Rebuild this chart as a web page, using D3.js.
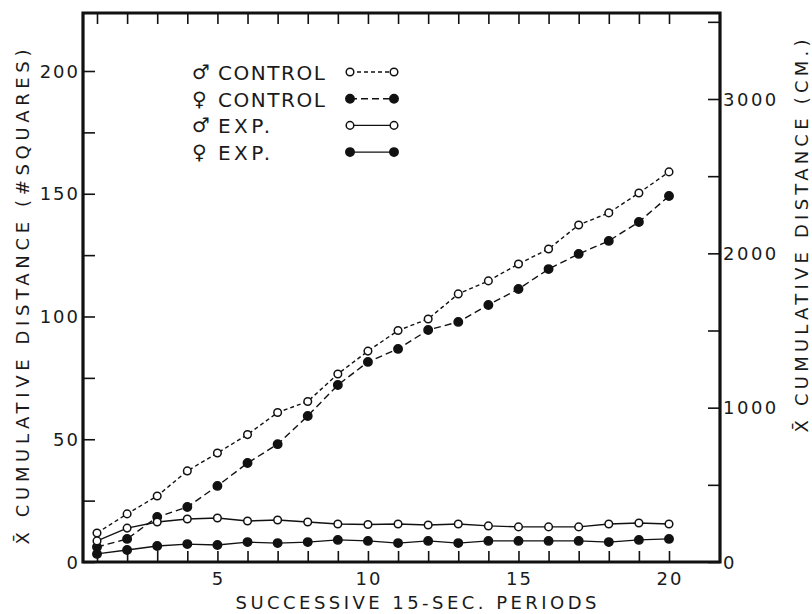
<!DOCTYPE html>
<html lang="en">
<head>
<meta charset="UTF-8">
<title>Cumulative distance</title>
<script src="https://d3js.org/d3.v7.min.js"></script>
<style>
  body { margin: 0; background: #fff; }
  svg text { font-family: "DejaVu Sans", sans-serif; fill: #1a1a1a; }
</style>
</head>
<body>
<div id="chart"></div>
<script>
// periods 1..20
var periods = d3.range(1, 21);

var maleControl = [11.8, 19.6, 26.9, 37.1, 44.4, 51.9, 60.9, 65.4, 76.6, 85.9,
                   94.3, 99.0, 109.2, 114.5, 121.4, 127.5, 137.3, 142.2, 150.3, 158.9];
var femaleControl = [6.1, 9.4, 18.3, 22.4, 31.0, 40.3, 48.0, 59.5, 72.1, 81.5,
                     86.8, 94.5, 97.8, 104.7, 111.2, 119.3, 125.5, 130.8, 138.5, 149.1];
var maleExp = [8.6, 13.8, 16.3, 17.5, 17.9, 16.7, 17.1, 16.3, 15.5, 15.3,
               15.5, 15.1, 15.5, 14.7, 14.3, 14.3, 14.3, 15.5, 15.9, 15.5];
var femaleExp = [3.3, 4.9, 6.5, 7.3, 6.9, 8.1, 7.7, 8.1, 9.0, 8.6,
                 7.7, 8.6, 7.7, 8.6, 8.6, 8.6, 8.6, 8.1, 9.0, 9.4];

var leftTicks = [0, 50, 100, 150, 200];
var leftMinor = [25, 75, 125, 175];
var rightTicks = [0, 1000, 2000, 3000];
var rightMinor = [500, 1500, 2500, 3500];
var xLabelTicks = [5, 10, 15, 20];

var series = [
  { name: "CONTROL", sex: "\u2642", values: maleControl, filled: false, dash: "4,3" },
  { name: "CONTROL", sex: "\u2640", values: femaleControl, filled: true, dash: "7,4" },
  { name: "EXP.", sex: "\u2642", values: maleExp, filled: false, dash: null },
  { name: "EXP.", sex: "\u2640", values: femaleExp, filled: true, dash: null }
];

var width = 812, height = 614;
var plotLeft = 83, plotRight = 720, plotTop = 13, plotBottom = 562;

var svg = d3.select("#chart").append("svg")
    .attr("width", width)
    .attr("height", height);

var x = d3.scaleLinear().domain([1, 20]).range([97, 669]);
var y = d3.scaleLinear().domain([0, 200]).range([562, 71]);
var y2 = d3.scaleLinear().domain([0, 3000]).range([562, 99]);

var fontSize = 18;

// frame
var frame = svg.append("g").attr("stroke", "#111").attr("stroke-width", 3.2).attr("fill", "none");
frame.append("path")
    .attr("d", "M" + plotLeft + "," + plotTop + "H" + plotRight + "V" + plotBottom + "H" + plotLeft + "Z");

function styleTicks(g) {
  g.select(".domain").remove();
  g.selectAll("line").attr("stroke", "#111").attr("stroke-width", 1.6);
}

// bottom axis ticks (inward)
svg.append("g").attr("transform", "translate(0," + plotBottom + ")")
    .call(d3.axisTop(x).tickValues(periods).tickSize(11).tickFormat(""))
    .call(styleTicks);

// top ticks (inward)
svg.append("g").attr("transform", "translate(0," + plotTop + ")")
    .call(d3.axisBottom(x).tickValues(periods).tickSize(11).tickFormat(""))
    .call(styleTicks);

// bottom labels
svg.append("g").selectAll("text").data(xLabelTicks).enter().append("text")
    .attr("x", function(d) { return x(d) + 1; })
    .attr("y", 585)
    .attr("text-anchor", "middle")
    .style("font-size", fontSize + "px")
    .style("letter-spacing", "2px")
    .text(function(d) { return d; });

// left axis
svg.append("g").attr("transform", "translate(" + plotLeft + ",0)")
    .call(d3.axisRight(y).tickValues(leftTicks.concat(leftMinor)).tickSize(12).tickFormat(""))
    .call(styleTicks);
svg.append("g").selectAll("text").data(leftTicks).enter().append("text")
    .attr("x", 80)
    .attr("y", function(d) { return y(d) + 6.5; })
    .attr("text-anchor", "end")
    .style("font-size", fontSize + "px")
    .style("letter-spacing", "2px")
    .text(function(d) { return d; });

// right axis
svg.append("g").attr("transform", "translate(" + plotRight + ",0)")
    .call(d3.axisLeft(y2).tickValues(rightTicks.concat(rightMinor)).tickSize(12).tickFormat(""))
    .call(styleTicks);
svg.append("g").selectAll("text").data(rightTicks).enter().append("text")
    .attr("x", 723)
    .attr("y", function(d) { return y2(d) + 6.5; })
    .attr("text-anchor", "start")
    .style("font-size", fontSize + "px")
    .style("letter-spacing", "2.5px")
    .text(function(d) { return d; });

// axis titles
svg.append("text")
    .attr("x", 416).attr("y", 609)
    .attr("text-anchor", "middle")
    .attr("textLength", 361)
    .attr("lengthAdjust", "spacing")
    .style("font-size", fontSize + "px")
    .text("SUCCESSIVE  15-SEC.  PERIODS");

svg.append("text")
    .attr("transform", "translate(29,297) rotate(-90)")
    .attr("text-anchor", "middle")
    .attr("textLength", 495)
    .attr("lengthAdjust", "spacing")
    .style("font-size", fontSize + "px")
    .text("X\u0304  CUMULATIVE  DISTANCE  (#SQUARES)");

svg.append("text")
    .attr("transform", "translate(808,236) rotate(-90)")
    .attr("text-anchor", "middle")
    .attr("textLength", 393)
    .attr("lengthAdjust", "spacing")
    .style("font-size", fontSize + "px")
    .text("X\u0304  CUMULATIVE  DISTANCE  (CM.)");

// series
var line = d3.line()
    .x(function(d, i) { return x(periods[i]); })
    .y(function(d) { return y(d); });

series.forEach(function(s) {
  svg.append("path")
      .datum(s.values)
      .attr("d", line)
      .attr("fill", "none")
      .attr("stroke", "#111")
      .attr("stroke-width", 1.4)
      .attr("stroke-dasharray", s.dash);
});
series.forEach(function(s) {
  svg.append("g").selectAll("circle").data(s.values).enter().append("circle")
      .attr("cx", function(d, i) { return x(periods[i]); })
      .attr("cy", function(d) { return y(d); })
      .attr("r", s.filled ? 4.2 : 3.8)
      .attr("fill", s.filled ? "#111" : "#fff")
      .attr("stroke", "#111")
      .attr("stroke-width", 1.5);
});

// legend
var legend = svg.append("g").attr("class", "legend");
series.forEach(function(s, i) {
  var ly = 72 + i * 26.7;
  legend.append("text")
      .attr("x", 192).attr("y", ly + 7)
      .style("font-size", "20px")
      .text(s.sex);
  legend.append("text")
      .attr("x", 218).attr("y", ly + 8)
      .attr("textLength", s.name === "CONTROL" ? 107 : 52)
      .attr("lengthAdjust", "spacing")
      .style("font-size", "20px")
      .text(s.name);
  legend.append("line")
      .attr("x1", 350).attr("x2", 394)
      .attr("y1", ly).attr("y2", ly)
      .attr("stroke", "#111").attr("stroke-width", 1.4)
      .attr("stroke-dasharray", s.dash);
  [350, 394].forEach(function(cx) {
    legend.append("circle")
        .attr("cx", cx).attr("cy", ly)
        .attr("r", s.filled ? 4.2 : 3.8)
        .attr("fill", s.filled ? "#111" : "#fff")
        .attr("stroke", "#111").attr("stroke-width", 1.5);
  });
});
</script>
</body>
</html>
